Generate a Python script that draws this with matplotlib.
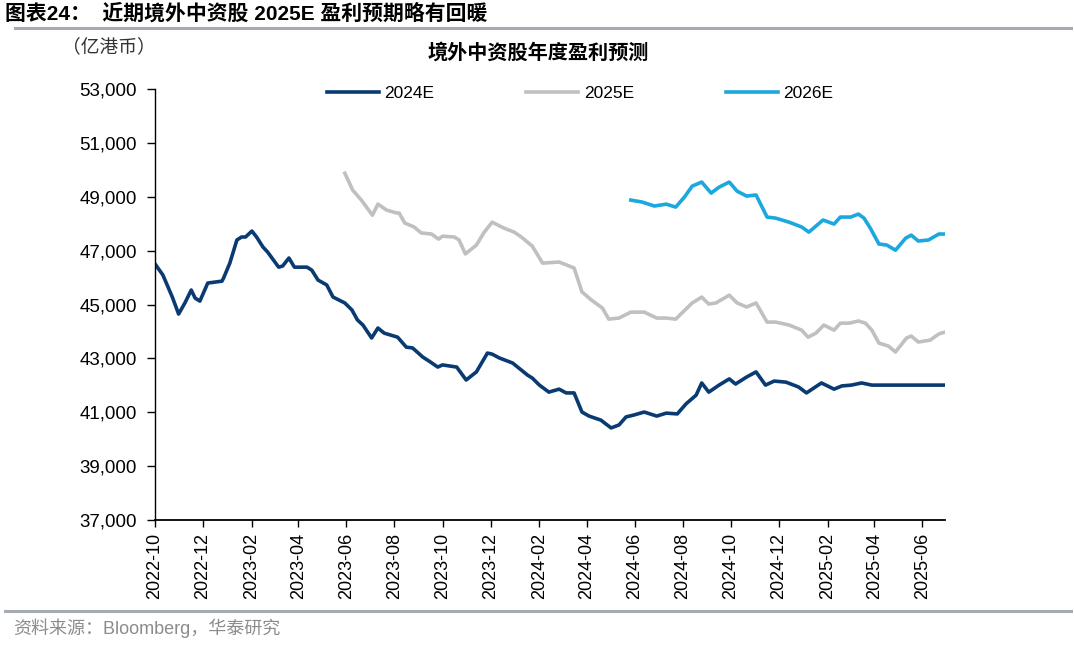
import numpy as np
import pandas as pd
import matplotlib
matplotlib.use('Agg')
import matplotlib.pyplot as plt
import matplotlib.dates as mdates
from matplotlib.ticker import FuncFormatter, FixedLocator

plt.rcParams['font.family'] = ['Liberation Sans', 'Noto Sans CJK SC', 'DejaVu Sans']

# 2024E consensus (100m HKD)
dates_2024e = ['2022-10-02', '2022-10-11', '2022-10-23', '2022-10-31', '2022-11-08', '2022-11-16',
               '2022-11-21', '2022-11-27', '2022-12-07', '2022-12-25', '2022-12-27', '2023-01-04',
               '2023-01-13', '2023-01-19', '2023-01-24', '2023-02-01', '2023-02-07', '2023-02-15',
               '2023-02-21', '2023-03-07', '2023-03-12', '2023-03-20', '2023-03-27', '2023-04-12',
               '2023-04-18', '2023-04-26', '2023-05-07', '2023-05-15', '2023-05-30', '2023-06-08',
               '2023-06-15', '2023-06-22', '2023-07-03', '2023-07-11', '2023-07-19', '2023-08-05',
               '2023-08-16', '2023-08-24', '2023-09-06', '2023-09-14', '2023-09-25', '2023-10-01',
               '2023-10-19', '2023-10-31', '2023-11-13', '2023-11-27', '2023-12-03', '2023-12-12',
               '2023-12-29', '2024-01-06', '2024-01-17', '2024-01-23', '2024-02-01', '2024-02-13',
               '2024-02-26', '2024-03-06', '2024-03-16', '2024-03-26', '2024-04-04', '2024-04-19',
               '2024-05-02', '2024-05-12', '2024-05-21', '2024-05-31', '2024-06-13', '2024-06-29',
               '2024-07-11', '2024-07-25', '2024-08-05', '2024-08-18', '2024-08-25', '2024-09-03',
               '2024-09-16', '2024-09-29', '2024-10-07', '2024-10-21', '2024-11-02', '2024-11-14',
               '2024-11-25', '2024-12-10', '2024-12-26', '2025-01-05', '2025-01-24', '2025-02-09',
               '2025-02-19', '2025-03-03', '2025-03-16', '2025-03-29', '2025-06-30']
values_2024e = [46470, 46100, 45280, 44650, 45060, 45540, 45240, 45130, 45800, 45870, 45980, 46540,
                47400, 47510, 47510, 47730, 47510, 47140, 46950, 46390, 46430, 46730, 46390, 46390,
                46280, 45910, 45730, 45280, 45060, 44800, 44430, 44240, 43760, 44130, 43940, 43790,
                43420, 43390, 43050, 42900, 42680, 42760, 42680, 42200, 42500, 43200, 43160, 43020,
                42830, 42640, 42380, 42270, 42010, 41750, 41860, 41720, 41720, 41010, 40860, 40710,
                40420, 40530, 40830, 40900, 41010, 40860, 40970, 40940, 41310, 41640, 42090, 41750,
                42010, 42240, 42050, 42310, 42500, 42010, 42160, 42120, 41940, 41720, 42090, 41860,
                41980, 42010, 42090, 42010, 42010]

# 2025E consensus
dates_2025e = ['2023-05-30', '2023-06-09', '2023-06-20', '2023-07-04', '2023-07-11', '2023-07-22',
               '2023-08-04', '2023-08-07', '2023-08-14', '2023-08-26', '2023-09-04', '2023-09-17',
               '2023-09-26', '2023-10-01', '2023-10-16', '2023-10-22', '2023-10-30', '2023-11-13',
               '2023-11-23', '2023-12-03', '2023-12-18', '2023-12-31', '2024-01-09', '2024-01-23',
               '2024-02-05', '2024-02-26', '2024-03-16', '2024-03-26', '2024-04-07', '2024-04-21',
               '2024-04-29', '2024-05-12', '2024-05-27', '2024-06-13', '2024-06-29', '2024-07-11',
               '2024-07-23', '2024-07-31', '2024-08-13', '2024-08-25', '2024-09-03', '2024-09-12',
               '2024-09-29', '2024-10-09', '2024-10-21', '2024-11-02', '2024-11-16', '2024-11-27',
               '2024-12-14', '2024-12-30', '2025-01-07', '2025-01-17', '2025-01-27', '2025-02-09',
               '2025-02-17', '2025-02-28', '2025-03-12', '2025-03-21', '2025-03-29', '2025-04-07',
               '2025-04-19', '2025-04-28', '2025-05-12', '2025-05-18', '2025-05-27', '2025-06-11',
               '2025-06-22', '2025-06-30']
values_2025e = [49880, 49250, 48880, 48320, 48730, 48510, 48400, 48400, 48030, 47880, 47660, 47620,
                47430, 47540, 47510, 47400, 46880, 47210, 47690, 48060, 47840, 47690, 47510, 47170,
                46540, 46580, 46360, 45470, 45170, 44870, 44460, 44500, 44720, 44720, 44500, 44500,
                44460, 44690, 45060, 45280, 45020, 45060, 45350, 45060, 44910, 45060, 44350, 44350,
                44240, 44050, 43790, 43940, 44240, 44050, 44310, 44310, 44390, 44310, 44050, 43570,
                43460, 43240, 43760, 43830, 43610, 43680, 43910, 43980]

# 2026E consensus
dates_2026e = ['2024-05-27', '2024-06-10', '2024-06-26', '2024-07-11', '2024-07-23', '2024-08-03',
               '2024-08-13', '2024-08-25', '2024-09-06', '2024-09-16', '2024-09-29', '2024-10-09',
               '2024-10-21', '2024-11-02', '2024-11-16', '2024-11-27', '2024-12-14', '2024-12-30',
               '2025-01-08', '2025-01-26', '2025-02-09', '2025-02-17', '2025-03-02', '2025-03-12',
               '2025-03-19', '2025-03-27', '2025-04-07', '2025-04-17', '2025-04-28', '2025-05-11',
               '2025-05-18', '2025-05-27', '2025-06-09', '2025-06-22', '2025-06-30']
values_2026e = [48880, 48810, 48660, 48730, 48620, 48990, 49400, 49550, 49140, 49360, 49550, 49210,
                49030, 49070, 48250, 48210, 48060, 47880, 47690, 48140, 47990, 48250, 48250, 48360,
                48210, 47840, 47250, 47210, 47020, 47470, 47580, 47360, 47400, 47620, 47620]

y_ticks = np.arange(37000, 53001, 2000)

series = [
    ('2024E', dates_2024e, values_2024e, '#0A3A72'),
    ('2025E', dates_2025e, values_2025e, '#C0C0C0'),
    ('2026E', dates_2026e, values_2026e, '#1BA8DE'),
]

fig = plt.figure(figsize=(10.74, 6.46), dpi=100)
ax = fig.add_axes([0.1443, 0.195, 0.7357, 0.667])

for name, d, v, c in series:
    ax.plot(pd.to_datetime(d), v, color=c, lw=2.6, label=name, solid_joinstyle='round')

ax.set_ylim(37000, 53000)
ax.yaxis.set_major_locator(FixedLocator(y_ticks))
ax.yaxis.set_major_formatter(FuncFormatter(lambda x, p: f'{int(x):,}'))
ax.set_xlim(pd.Timestamp('2022-10-01'), pd.Timestamp('2025-06-30'))
ax.xaxis.set_major_locator(mdates.MonthLocator(bymonth=[2, 4, 6, 8, 10, 12]))
ax.xaxis.set_major_formatter(mdates.DateFormatter('%Y-%m'))
plt.setp(ax.get_xticklabels(), rotation=90)

for s in ['top', 'right']:
    ax.spines[s].set_visible(False)
ax.spines['left'].set_linewidth(1.0)
ax.spines['bottom'].set_linewidth(1.3)
ax.tick_params(axis='y', labelsize=13.5, length=6, width=1, pad=7, direction='out')
ax.tick_params(axis='x', labelsize=13, length=5, width=1, pad=4, direction='out')

leg = ax.legend(loc='upper center', bbox_to_anchor=(0.538, 1.044), ncol=3, frameon=False,
                fontsize=12.5, handlelength=3.0, handletextpad=0.3, columnspacing=5.3)

ax.text(0.485, 1.062, '境外中资股年度盈利预测', transform=ax.transAxes, ha='center', va='bottom',
        fontsize=14.5, fontweight='bold', family=['Noto Sans CJK SC'])

fig.text(0.058, 0.928, '（亿港币）', ha='left', va='center', fontsize=13.5, color='#333333',
         family=['Noto Sans CJK SC'])

fig.text(0.005, 0.979, '图表24：  近期境外中资股 2025E 盈利预期略有回暖', ha='left', va='center',
         fontsize=15, fontweight='bold')

fig.add_artist(plt.Line2D([0.014, 0.997], [0.957, 0.957], color='#A5ABB0', lw=2.2))
fig.add_artist(plt.Line2D([0.005, 0.997], [0.054, 0.054], color='#A5ABB0', lw=2.2))

fig.text(0.012, 0.028, '资料来源：Bloomberg，华泰研究', ha='left', va='center', fontsize=13,
         color='#8C8C8C')

fig.savefig('out.png', dpi=100)
